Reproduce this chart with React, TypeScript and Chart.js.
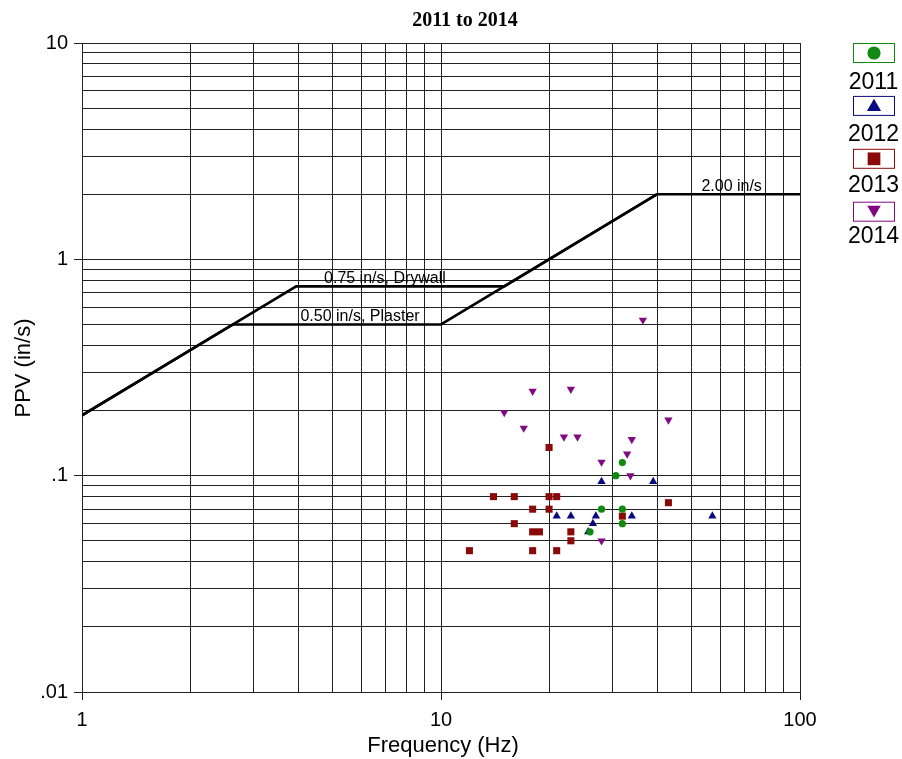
import React, { useEffect, useRef } from "react";
import { Chart, registerables } from "chart.js";

Chart.register(...registerables);

// ---- Data ----
const freq2011 = [32, 30.7, 28, 32, 32, 26];
const ppv2011 = [0.115, 0.1, 0.07, 0.07, 0.06, 0.055];

const freq2012 = [28, 39, 21, 23, 27, 34, 57, 26.5, 25.7];
const ppv2012 = [0.094, 0.094, 0.065, 0.065, 0.065, 0.065, 0.065, 0.06, 0.055];

const freq2013 = [20, 14, 16, 20, 21, 43, 18, 20, 32, 16, 18, 18.8, 23, 23, 12, 18, 21];
const ppv2013 = [0.135, 0.08, 0.08, 0.08, 0.08, 0.075, 0.07, 0.07, 0.065, 0.06, 0.055, 0.055, 0.055, 0.05, 0.045, 0.045, 0.045];

const freq2014 = [18, 23, 15, 17, 43, 22, 24, 34, 33, 28, 33.7, 28, 36.5];
const ppv2014 = [0.246, 0.251, 0.196, 0.166, 0.181, 0.151, 0.151, 0.147, 0.126, 0.1156, 0.1, 0.05, 0.524];

const plasterFreq = [1, 2.63, 10, 40, 100];
const plasterPpv = [0.19, 0.5, 0.5, 2.0, 2.0];
const drywallFreq = [1, 3.95, 15, 40];
const drywallPpv = [0.19, 0.75, 0.75, 2.0];

const yTickValues = [0.01, 0.1, 1, 10];
const yTickLabels = [".01", ".1", "1", "10"];
const xTickValues = [1, 10, 100];
const xTickLabels = ["1", "10", "100"];

const years = ["2011", "2012", "2013", "2014"];
const colors = ["#108a10", "#0a0a80", "#8a0a0a", "#800a80"];
const shapes = ["circle", "triangle", "rect", "triangle"];
const rotations = [0, 0, 0, 180];
const radii = [3.6, 4.8, 5, 4.8];
const legendRadii = [6.6, 8.2, 9, 7.8];

const lineLabels = [
  { text: "0.75 in/s, Drywall", f: 6.98, v: 0.75 },
  { text: "0.50 in/s, Plaster", f: 5.95, v: 0.5 },
  { text: "2.00 in/s", f: 64.5, v: 2.0 },
];

const zip = (xs: number[], ys: number[]) => xs.map((x, i) => ({ x, y: ys[i] }));

function gridValues(minExp: number, maxExp: number) {
  const out: number[] = [];
  for (let e = minExp; e < maxExp; e++) {
    for (let m = 1; m <= 9; m++) out.push(+(m * Math.pow(10, e)).toPrecision(6));
  }
  out.push(Math.pow(10, maxExp));
  return out;
}

function drawMarker(ctx: CanvasRenderingContext2D, shape: string, rot: number, r: number, x: number, y: number) {
  ctx.beginPath();
  if (shape === "circle") {
    ctx.arc(x, y, r, 0, Math.PI * 2);
  } else if (shape === "rect") {
    const s = r / Math.SQRT2;
    ctx.rect(x - s, y - s, 2 * s, 2 * s);
  } else {
    let a = (rot * Math.PI) / 180;
    for (let k = 0; k < 3; k++) {
      const px = x + Math.sin(a) * r;
      const py = y - Math.cos(a) * r;
      if (k === 0) ctx.moveTo(px, py);
      else ctx.lineTo(px, py);
      a += (2 * Math.PI) / 3;
    }
    ctx.closePath();
  }
  ctx.fill();
}

const SANS = "'Liberation Sans', Arial, sans-serif";

const decorPlugin = {
  id: "decor",
  afterDraw(chart: any) {
    const ctx = chart.ctx;
    const xs = chart.scales.x;
    const ys = chart.scales.y;
    ctx.save();
    // title
    ctx.fillStyle = "#000";
    ctx.font = "bold 20px 'Liberation Serif', 'Times New Roman', serif";
    ctx.textAlign = "center";
    ctx.textBaseline = "middle";
    ctx.fillText("2011 to 2014", 465, 21);
    // axis titles
    ctx.font = "22px " + SANS;
    ctx.fillText("Frequency (Hz)", 443, 746);
    ctx.save();
    ctx.translate(24, 368);
    ctx.rotate(-Math.PI / 2);
    ctx.fillText("PPV (in/s)", 0, 0);
    ctx.restore();
    // line labels
    ctx.font = "16px " + SANS;
    ctx.textBaseline = "alphabetic";
    lineLabels.forEach((l) => {
      ctx.fillText(l.text, xs.getPixelForValue(l.f), ys.getPixelForValue(l.v) - 3);
    });
    // legend
    const bx = 853, bw = 41, bh = 19;
    years.forEach((yr, i) => {
      const top = 43 + i * 52.9;
      ctx.fillStyle = "#fff";
      ctx.fillRect(bx, top, bw, bh);
      ctx.strokeStyle = colors[i];
      ctx.lineWidth = 1;
      ctx.strokeRect(bx + 0.5, top + 0.5, bw, bh);
      ctx.fillStyle = colors[i];
      const cy = top + bh / 2 + (rotations[i] === 180 ? -1.5 : shapes[i] === "triangle" ? 1.5 : 0.5);
      drawMarker(ctx, shapes[i], rotations[i], legendRadii[i], bx + bw / 2 + 0.5, cy);
      ctx.fillStyle = "#000";
      ctx.font = "23px " + SANS;
      ctx.textAlign = "center";
      ctx.textBaseline = "middle";
      ctx.fillText(yr, bx + bw / 2, 83 + i * 51.3);
    });
    ctx.restore();
  },
};

export default function App() {
  const ref = useRef<HTMLCanvasElement>(null);
  useEffect(() => {
    if (!ref.current) return;
    const series = [
      zip(freq2011, ppv2011),
      zip(freq2012, ppv2012),
      zip(freq2013, ppv2013),
      zip(freq2014, ppv2014),
    ];
    const scatterSets = series.map((d, i) => ({
      type: "scatter" as const,
      label: years[i],
      data: d,
      pointStyle: shapes[i] as any,
      rotation: rotations[i],
      pointRadius: radii[i],
      pointBackgroundColor: colors[i],
      pointBorderColor: colors[i],
      pointBorderWidth: 0,
      showLine: false,
    }));
    const lineSets = [
      { data: zip(plasterFreq, plasterPpv) },
      { data: zip(drywallFreq, drywallPpv) },
    ].map((s, i) => ({
      type: "line" as const,
      label: i === 0 ? "Plaster" : "Drywall",
      data: s.data,
      borderColor: "#000",
      borderWidth: 2.6,
      pointRadius: 0,
      fill: false,
      tension: 0,
    }));
    const yGrid = gridValues(-2, 1);
    const xGrid = gridValues(0, 2);
    const chart = new Chart(ref.current, {
      type: "scatter",
      data: { datasets: [...lineSets, ...scatterSets] as any },
      plugins: [decorPlugin],
      options: {
        animation: false,
        responsive: false,
        maintainAspectRatio: false,
        layout: { padding: { left: 0, top: 43, right: 102, bottom: 0 } },
        plugins: { legend: { display: false }, title: { display: false }, tooltip: { enabled: false } },
        scales: {
          x: {
            type: "logarithmic",
            min: 1,
            max: 100,
            afterBuildTicks: (s: any) => { s.ticks = xGrid.map((v) => ({ value: v })); },
            afterFit: (s: any) => { s.height = 67; },
            grid: {
              color: "#222",
              lineWidth: 1,
              tickLength: 8,
              tickColor: (c: any) => (xTickValues.includes(c.tick?.value) ? "#222" : "rgba(0,0,0,0)"),
            },
            border: { color: "#222" },
            ticks: {
              autoSkip: false,
              maxRotation: 0,
              padding: 8,
              color: "#000",
              font: { family: SANS, size: 20 },
              callback: (v: any) => {
                const idx = xTickValues.indexOf(Number(v));
                return idx >= 0 ? xTickLabels[idx] : "";
              },
            },
            title: { display: false },
          },
          y: {
            type: "logarithmic",
            min: 0.01,
            max: 10,
            afterBuildTicks: (s: any) => { s.ticks = yGrid.map((v) => ({ value: v })); },
            afterFit: (s: any) => { s.width = 82; },
            grid: {
              color: "#222",
              lineWidth: 1,
              tickLength: 8,
              tickColor: (c: any) => (yTickValues.some((t) => Math.abs(t - c.tick?.value) < 1e-9) ? "#222" : "rgba(0,0,0,0)"),
            },
            border: { color: "#222" },
            ticks: {
              autoSkip: false,
              padding: 6,
              color: "#000",
              font: { family: SANS, size: 20 },
              callback: (v: any) => {
                const idx = yTickValues.findIndex((t) => Math.abs(t - Number(v)) < 1e-9);
                return idx >= 0 ? yTickLabels[idx] : "";
              },
            },
            title: { display: false },
          },
        },
      } as any,
    });
    return () => chart.destroy();
  }, []);
  return (
    <div style={{ position: "fixed", left: 0, top: 0, width: 902, height: 759, background: "#fff" }}>
      <canvas ref={ref} width={902} height={759} style={{ width: 902, height: 759, display: "block" }} />
    </div>
  );
}
